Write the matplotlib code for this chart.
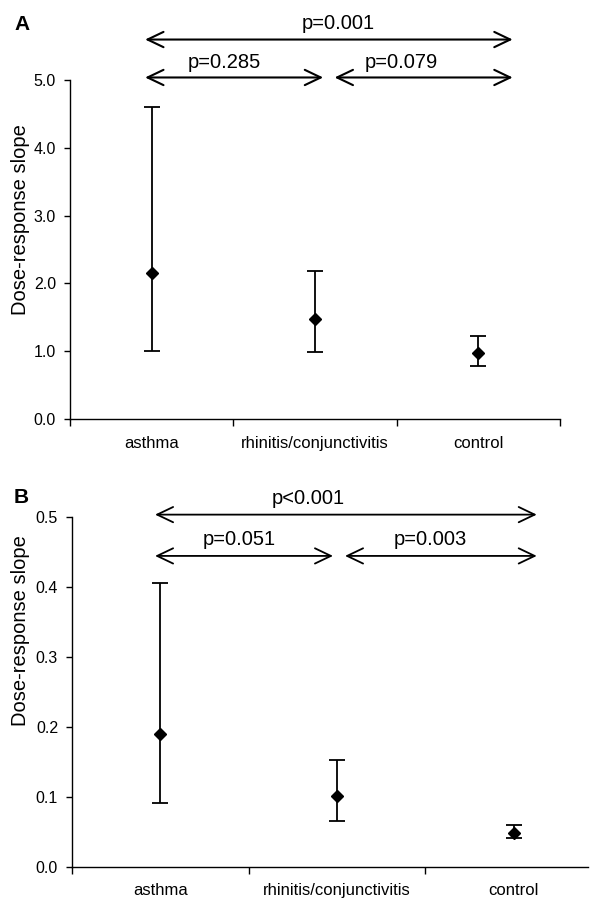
import matplotlib
matplotlib.use("Agg")
import matplotlib.pyplot as plt
import numpy as np
from matplotlib.ticker import FixedLocator, FormatStrFormatter

plt.rcParams['font.family'] = ['Liberation Sans', 'DejaVu Sans']

categories = ['asthma', 'rhinitis/conjunctivitis', 'control']

# Panel A
a_mean = [2.15, 1.48, 0.97]
a_low = [1.00, 0.99, 0.78]
a_high = [4.60, 2.18, 1.22]
a_pvals = ['p=0.001', 'p=0.285', 'p=0.079']

# Panel B
b_mean = [0.190, 0.101, 0.048]
b_low = [0.091, 0.065, 0.041]
b_high = [0.405, 0.152, 0.060]
b_pvals = ['p<0.001', 'p=0.051', 'p=0.003']

fig = plt.figure(figsize=(5.94, 9.01), dpi=100)
axA = fig.add_axes([0.1178, 0.535, 0.825, 0.376])
axB = fig.add_axes([0.1212, 0.0381, 0.8687, 0.3884])

xpos = np.arange(len(categories)) + 0.5


def style(ax, ymax, ystep, xmax, minor_ticks, fmt):
    ax.set_xlim(0, xmax)
    ax.set_ylim(0, ymax)
    for s in ['top', 'right']:
        ax.spines[s].set_visible(False)
    for s in ['left', 'bottom']:
        ax.spines[s].set_linewidth(1.0)
    ax.set_yticks(np.arange(0, ymax + ystep / 2, ystep))
    ax.yaxis.set_major_formatter(FormatStrFormatter(fmt))
    ax.tick_params(axis='y', direction='out', length=4, width=1.0, pad=6, labelsize=11.5)
    ax.set_xticks(xpos)
    ax.set_xticklabels(categories)
    ax.xaxis.set_minor_locator(FixedLocator(minor_ticks))
    ax.tick_params(axis='x', which='major', length=0, pad=12, labelsize=12)
    ax.tick_params(axis='x', which='minor', direction='out', length=5, width=1.0)
    ax.set_ylabel('Dose-response slope', fontsize=14.5)
    ax.yaxis.label.set_verticalalignment('center')


def draw(ax, mean, low, high, ms):
    mean = np.array(mean)
    yerr = np.vstack([mean - np.array(low), np.array(high) - mean])
    ax.errorbar(xpos, mean, yerr=yerr, fmt='D', color='black', ms=ms,
                mec='black', mfc='black', elinewidth=1.3, capsize=5.5,
                capthick=1.3, clip_on=False)


def arrow(ax, x1, x2, y, lw):
    ax.annotate('', xy=(x2, y), xytext=(x1, y), xycoords='data',
                arrowprops=dict(arrowstyle='<->,head_length=1.15,head_width=0.55',
                                lw=lw, color='black', shrinkA=0, shrinkB=0,
                                mutation_scale=10),
                annotation_clip=False)


# Panel A
style(axA, 5.0, 1.0, 3.0, [0, 1, 2, 3], '%.1f')
draw(axA, a_mean, a_low, a_high, 5.8)
axA.yaxis.set_label_coords(-0.1, 0.59)
arrow(axA, 0.46, 2.71, 5.60, 1.5)
arrow(axA, 0.46, 1.55, 5.04, 1.5)
arrow(axA, 1.62, 2.71, 5.04, 1.5)
axA.text(1.64, 5.83, a_pvals[0], ha='center', va='center', fontsize=14.5, clip_on=False)
axA.text(0.943, 5.265, a_pvals[1], ha='center', va='center', fontsize=14.5, clip_on=False)
axA.text(2.03, 5.265, a_pvals[2], ha='center', va='center', fontsize=14.5, clip_on=False)

# Panel B
style(axB, 0.5, 0.1, 2.92, [0, 1, 2], '%.1f')
draw(axB, b_mean, b_low, b_high, 5.8)
axB.yaxis.set_label_coords(-0.099, 0.675)
arrow(axB, 0.47, 2.63, 0.503, 1.3)
arrow(axB, 0.47, 1.477, 0.444, 1.3)
arrow(axB, 1.545, 2.63, 0.444, 1.3)
axB.text(1.336, 0.526, b_pvals[0], ha='center', va='center', fontsize=14.5, clip_on=False)
axB.text(0.948, 0.468, b_pvals[1], ha='center', va='center', fontsize=14.5, clip_on=False)
axB.text(2.03, 0.468, b_pvals[2], ha='center', va='center', fontsize=14.5, clip_on=False)

fig.text(22 / 594, 1 - 25 / 901, 'A', ha='center', va='center', fontsize=15, fontweight='bold')
fig.text(21 / 594, 1 - 497.5 / 901, 'B', ha='center', va='center', fontsize=15, fontweight='bold')

fig.savefig('out.png', dpi=100, facecolor='white')
